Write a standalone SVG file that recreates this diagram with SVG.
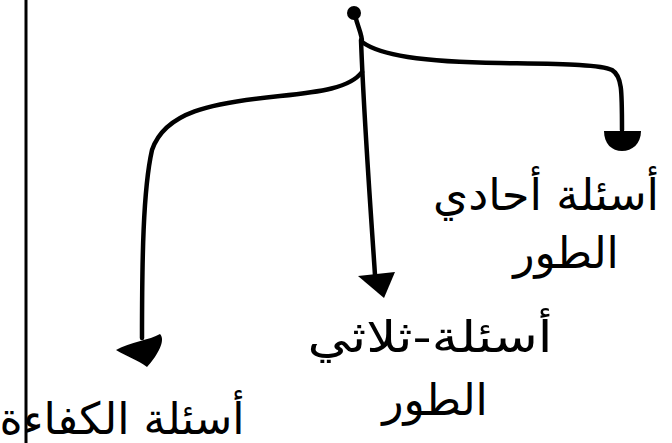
<svg xmlns="http://www.w3.org/2000/svg" width="672" height="443" viewBox="0 0 672 443">
<style>
.ln{fill:none;stroke:#000;stroke-width:4.5;stroke-linecap:round}
.hd{fill:#000}
.t{font-family:"DejaVu Sans","Noto Sans",sans-serif;font-size:44px;fill:#000;text-anchor:middle;direction:rtl}
</style>
<rect width="672" height="443" fill="#fff"/>
<line x1="26" y1="0" x2="26" y2="443" stroke="#000" stroke-width="3"/>
<g id="connectors">
<circle cx="354" cy="13" r="7" class="hd"/>
<path class="ln" d="M355,15 C358,28 362,34 362,42 C380,55 420,62 500,63 C560,64 600,64 612,70 C622,76 622,90 622,130"/>
<path class="hd" d="M604,131 L641,131 C641,144 632,151 622,151 C612,151 604,144 604,131 Z"/>
<path class="ln" d="M361,40 C364,120 370,200 375,275"/>
<path class="hd" d="M358,276 L395,272 L384,298 Z"/>
<path class="ln" d="M362,72 C350,88 320,92 280,96 C210,103 165,112 152,150 C143,190 142,260 142,338"/>
<path class="hd" d="M116,350 C130,342 150,340 160,334 C166,340 158,355 147,367 C138,360 126,356 116,350 Z"/>
</g>
<g id="node-right">
<text class="t" x="546" y="210" textLength="226" lengthAdjust="spacingAndGlyphs">أسئلة أحادي</text>
<text class="t" x="566" y="268">الطور</text>
</g>
<g id="node-middle">
<text class="t" x="430" y="352" textLength="245" lengthAdjust="spacingAndGlyphs">أسئلة-ثلاثي</text>
<text class="t" x="435" y="415">الطور</text>
</g>
<g id="node-left">
<text class="t" x="122" y="434" textLength="245" lengthAdjust="spacingAndGlyphs">أسئلة الكفاءة</text>
</g>
</svg>
